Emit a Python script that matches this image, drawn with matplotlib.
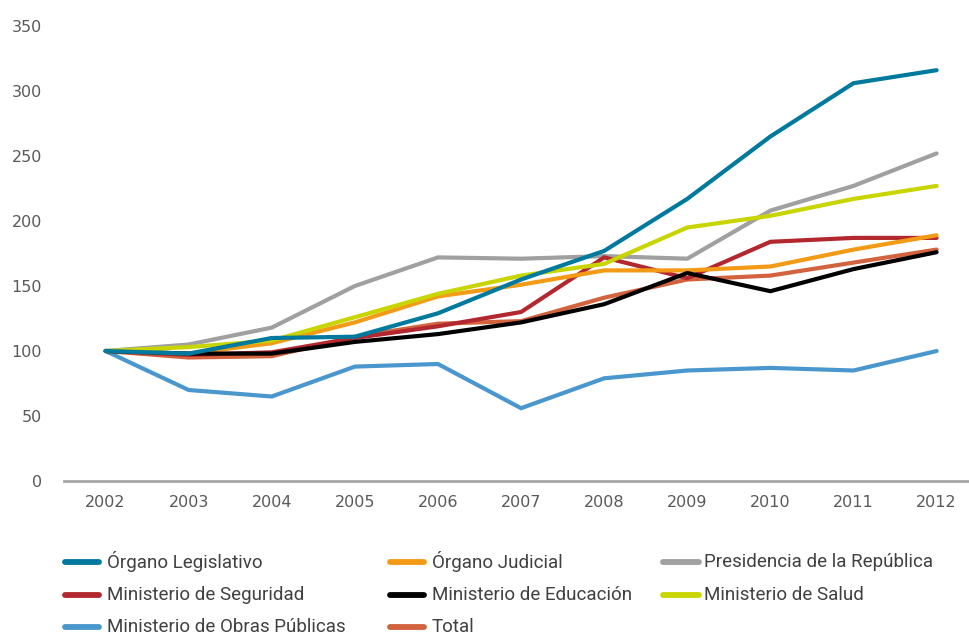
import matplotlib.pyplot as plt
from matplotlib.lines import Line2D

years = ['2002', '2003', '2004', '2005', '2006', '2007', '2008', '2009', '2010', '2011', '2012']

legislativo = [100, 98, 110, 111, 129, 155, 177, 217, 265, 306, 316]
judicial = [100, 98, 106, 122, 142, 151, 162, 162, 165, 178, 189]
presidencia = [100, 105, 118, 150, 172, 171, 173, 171, 208, 227, 252]
seguridad = [100, 97, 99, 110, 119, 130, 172, 156, 184, 187, 187]
educacion = [100, 98, 98, 107, 113, 122, 136, 160, 146, 163, 176]
salud = [100, 103, 108, 126, 144, 158, 167, 195, 204, 217, 227]
obras = [100, 70, 65, 88, 90, 56, 79, 85, 87, 85, 100]
total = [100, 95, 96, 111, 121, 123, 141, 155, 158, 168, 178]

names = ['Órgano Legislativo', 'Órgano Judicial', 'Presidencia de la República',
         'Ministerio de Seguridad', 'Ministerio de Educación', 'Ministerio de Salud',
         'Ministerio de Obras Públicas', 'Total']
series = [legislativo, judicial, presidencia, seguridad, educacion, salud, obras, total]
colors = ['#00799F', '#F39A16', '#A0A0A0', '#B3282F', '#000000', '#C9D500', '#4A97CE', '#D2633E']
zorders = [10, 6, 4, 5, 7, 8, 3, 2]

fig = plt.figure(figsize=(9.69, 6.38), dpi=100)
ax = fig.add_axes([64 / 969, 157 / 638, 905 / 969, 455 / 638])

x = list(range(len(years)))
for vals, c, z in zip(series, colors, zorders):
  ax.plot(x, vals, color=c, lw=3.0, solid_capstyle='round', solid_joinstyle='miter', zorder=z)

ax.set_xlim(-0.5, 10.39)
ax.set_ylim(0, 350)
ax.set_yticks(range(0, 351, 50))
ax.set_xticks(x)
ax.set_xticklabels(years)
ax.tick_params(length=0, labelsize=11.5, colors='#595959')
ax.tick_params(axis='x', pad=10)
ax.tick_params(axis='y', pad=16)
for s in ['top', 'right', 'left']:
  ax.spines[s].set_visible(False)
ax.spines['bottom'].set_color('#A6A6A6')
ax.spines['bottom'].set_linewidth(2)

# legend drawn row by row, three entries per row
handle_x = [(65, 99), (390, 424), (663, 699)]
text_x = [107, 432, 704]
row_y = [562, 595, 627]
for i, (name, c) in enumerate(zip(names, colors)):
  r, col = i // 3, i % 3
  yf = 1 - row_y[r] / 638
  x0, x1 = handle_x[col]
  fig.add_artist(Line2D([x0 / 969, x1 / 969], [yf, yf], color=c, lw=4.2,
                        solid_capstyle='round', transform=fig.transFigure))
  fig.text(text_x[col] / 969, yf, name, fontsize=13.5, color='#404040',
           va='center', ha='left', family=['Roboto', 'DejaVu Sans'])

fig.savefig('out.png', dpi=100)
